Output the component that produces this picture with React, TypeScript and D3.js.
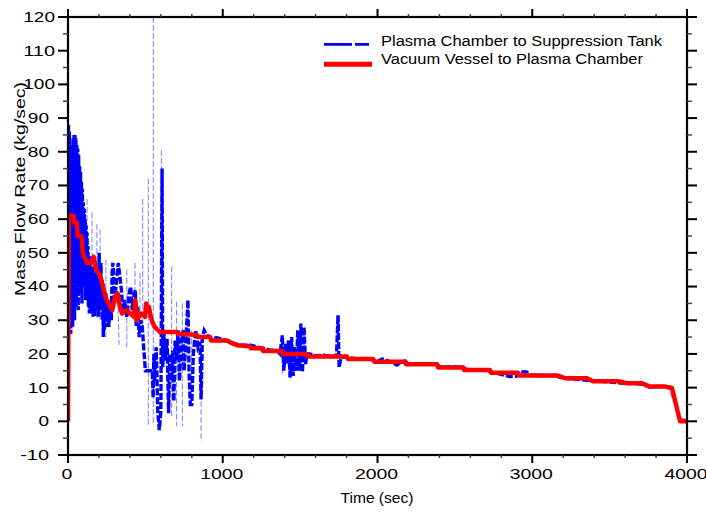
import React from "react";
import * as d3 from "d3";

// ---- data (time in sec, mass flow rate in kg/sec) ----
const redSeries: [number, number][] = [
  [0, 0], [5, 61], [37, 61], [40, 59], [58, 59], [62, 55], [88, 55], [95, 50], [123, 47], [150, 47],
  [166, 48.8], [180, 45], [198, 44], [215, 42], [231, 39], [250, 36], [263, 35], [285, 33], [305, 37],
  [320, 38], [336, 34], [350, 32], [380, 33], [426, 31], [435, 36], [446, 30], [470, 32], [498, 31],
  [505, 35], [515, 33], [523, 34], [535, 31], [549, 29], [560, 28], [595, 26.5], [704, 26.5], [710, 26],
  [834, 25.6], [840, 25], [918, 25], [925, 24], [1027, 24], [1060, 23.2], [1092, 22.6], [1176, 22.3],
  [1182, 21.7], [1254, 21.7], [1260, 20.9], [1383, 20.9], [1390, 20], [1544, 20], [1550, 19.2],
  [1803, 19.2], [1810, 18.5], [1971, 18.5], [1978, 17.7], [2178, 17.7], [2185, 16.9], [2385, 16.9],
  [2392, 16], [2553, 16], [2560, 15.2], [2727, 15.2], [2734, 14.4], [2908, 14.4], [2915, 13.6],
  [3160, 13.6], [3212, 12.8], [3354, 12.8], [3393, 11.9], [3554, 11.9], [3612, 11.3], [3709, 11.3],
  [3761, 10.3], [3858, 10.3], [3903, 9.9], [3955, 0], [4000, 0],
];

const blueSeries: [number, number][] = [
  [0, 25], [3, 88], [6, 40], [9, 86], [12, 30], [15, 77], [18, 26], [21, 80], [24, 45], [27, 82],
  [30, 28], [33, 84], [36, 40], [39, 85], [42, 30], [45, 85], [48, 48], [51, 84], [54, 34], [57, 82],
  [60, 48], [63, 81], [66, 33], [69, 79], [72, 45], [75, 76], [78, 38], [81, 74], [84, 45], [87, 71],
  [90, 35], [93, 69], [96, 47], [99, 65], [102, 40], [105, 63], [108, 47], [111, 60], [114, 36],
  [117, 58], [120, 45], [123, 56], [126, 38], [129, 52],
  [132, 34], [135, 48], [138, 32], [141, 49], [144, 33], [147, 46], [150, 32], [153, 45], [156, 36],
  [159, 46], [162, 31], [165, 44], [168, 34], [171, 43], [174, 31], [177, 42], [180, 34], [183, 45],
  [186, 33], [189, 45], [192, 36], [195, 43], [198, 31], [201, 50], [204, 36], [207, 47], [210, 33],
  [213, 47], [216, 34], [219, 42], [222, 30], [225, 41], [228, 25], [231, 35], [234, 27], [237, 38],
  [240, 31], [244, 38], [248, 30], [252, 36], [256, 28], [260, 35], [264, 28], [268, 33], [272, 30],
  [276, 36], [280, 30], [285, 44], [290, 47], [295, 43], [300, 35],
  [312, 41], [325, 47], [335, 43], [345, 39], [355, 32], [365, 36], [380, 31], [395, 38], [405, 40],
  [415, 33], [425, 37], [435, 39], [442, 28], [450, 34], [460, 25], [470, 30], [480, 28], [492, 20],
  [500, 15], [545, 15], [550, 7], [555, 20], [560, 12], [570, 22], [580, 3], [590, -2.6], [600, 3],
  [608, 75], [612, 16], [620, 26], [630, 18], [640, 24.5], [650, 2.4], [658, 20], [668, 12], [676, 21],
  [684, 6], [692, 24], [702, 18], [712, 27], [720, 12], [730, 22], [743, 27], [750, 15], [760, 22],
  [775, 36], [782, 15], [790, 5], [800, 5], [810, 20], [825, 27], [840, 22], [853, 23.5], [860, 6.5],
  [868, 25], [880, 27], [900, 25.5], [930, 24.5], [960, 24.8], [1000, 24.3], [1040, 23.8], [1080, 23],
  [1120, 22.6], [1180, 22.6], [1230, 22], [1300, 21.2], [1350, 21],
  [1370, 20], [1385, 25.5], [1395, 15], [1405, 23], [1415, 17], [1425, 24], [1435, 13], [1445, 25],
  [1455, 13.5], [1465, 22], [1475, 15], [1485, 27], [1495, 15], [1505, 29], [1515, 14.6], [1525, 28],
  [1535, 17], [1545, 20], [1560, 20], [1600, 19.5], [1650, 19.6], [1700, 19.3], [1735, 19.4],
  [1745, 31.5], [1752, 16], [1760, 18], [1770, 19], [1800, 19], [1860, 18.6], [1950, 18.6],
  [2000, 17.8], [2030, 18.5], [2070, 17.9], [2126, 16.7], [2150, 17.5], [2178, 17.9], [2200, 17],
  [2385, 16.9], [2400, 16.2], [2550, 16.1], [2570, 15.5], [2600, 15.3], [2700, 15.2], [2740, 14.6],
  [2856, 13.3], [2900, 13.4], [2920, 14.8], [2966, 14.6], [2980, 13.7], [3150, 13.5], [3200, 12.8],
  [3400, 12], [3600, 11.3], [3700, 11.1], [3760, 10.2], [3850, 10.4],
];

// faint thin dashed excursions of the blue series: [t1, v1, t2, v2]
const blueThin: [number, number, number, number][] = [
  [123, 66, 123, 35], [155, 62, 155, 33], [187, 58.5, 187, 30], [207, 57, 207, 30], [245, 48, 245, 25],
  [323, 36, 330, 22.7], [380, 45, 380, 22], [433, 47, 433, 28], [465, 44, 465, 26], [483, 66, 483, 22],
  [519, 72, 519, -1], [551, 120, 551, -1], [603, 80.5, 603, 25], [670, 46, 670, 1.5],
  [702, 35.5, 702, -1.5], [739, 35, 739, -1.5], [799, 27, 799, 8], [860, 25, 860, -6],
  [1385, 25, 1385, 14], [1440, 24, 1440, 12], [3850, 10.4, 3870, 10.8], [3870, 10.8, 3955, 1],
  [3955, 1, 4000, 0.5],
];

const xTicks = [0, 1000, 2000, 3000, 4000];
const yTicks = [-10, 0, 10, 20, 30, 40, 50, 60, 70, 80, 90, 100, 110, 120];
const seriesNames = ["Plasma Chamber to Suppression Tank", "Vacuum Vessel to Plasma Chamber"];

const W = 706, H = 516;
const L = 68, R = 687, T = 17, B = 455;
const FONT = "'Liberation Sans', Arial, Helvetica, sans-serif";

export default function App() {
  const x = d3.scaleLinear().domain([0, 4000]).range([L, R]);
  const y = d3.scaleLinear().domain([-10, 120]).range([B, T]);
  const line = d3.line<[number, number]>().x((d) => x(d[0])).y((d) => y(d[1]));

  const xMinor = d3.range(0, 4001, 200).filter((v) => v % 1000 !== 0);
  const yMinor = d3.range(-5, 120, 10);

  return (
    <>
      <style>{"body{margin:0}"}</style>
      <svg width={W} height={H} style={{ display: "block", background: "#fff" }} fontFamily={FONT}>
        <defs>
          <clipPath id="plot">
            <rect x={L} y={T - 1} width={R - L} height={B - T + 2} />
          </clipPath>
        </defs>
        <g clipPath="url(#plot)">
          {blueThin.map((s, i) => (
            <line
              key={i}
              x1={x(s[0])}
              y1={y(s[1])}
              x2={x(s[2])}
              y2={y(s[3])}
              stroke="#7f7fff"
              strokeWidth={1}
              strokeDasharray="6,2"
            />
          ))}
          <path d={line(blueSeries) || ""} fill="none" stroke="#0000ff" strokeWidth={3.4} strokeDasharray="7,2" />
          <path d={line(redSeries) || ""} fill="none" stroke="#ff0000" strokeWidth={4.5} strokeLinejoin="round" />
        </g>

        {/* frame */}
        <rect x={L} y={T} width={R - L} height={B - T} fill="none" stroke="#000" strokeWidth={2.2} />

        {/* y ticks */}
        {yTicks.map((v) => (
          <g key={"y" + v}>
            <line x1={L - 10} x2={L} y1={y(v)} y2={y(v)} stroke="#000" strokeWidth={2} />
            <line x1={R} x2={R + 10} y1={y(v)} y2={y(v)} stroke="#000" strokeWidth={2} />
            <text
              x={v >= 100 ? 55 : 49}
              y={y(v)}
              dy="0.35em"
              textAnchor="end"
              fontSize={14}
              textLength={String(v).length * 10.6 - (v < 0 ? 3 : 0)}
              lengthAdjust="spacingAndGlyphs"
            >
              {v}
            </text>
          </g>
        ))}
        {yMinor.map((v) => (
          <g key={"ym" + v}>
            <line x1={L - 5} x2={L} y1={y(v)} y2={y(v)} stroke="#444" strokeWidth={1.5} />
            <line x1={R} x2={R + 5} y1={y(v)} y2={y(v)} stroke="#444" strokeWidth={1.5} />
          </g>
        ))}

        {/* x ticks */}
        {xTicks.map((v) => (
          <g key={"x" + v}>
            <line x1={x(v)} x2={x(v)} y1={B} y2={B + 8} stroke="#000" strokeWidth={2} />
            <line x1={x(v)} x2={x(v)} y1={T - 8} y2={T} stroke="#000" strokeWidth={2} />
            <text
              x={x(v) - 1}
              y={479}
              textAnchor="middle"
              fontSize={15.5}
              textLength={String(v).length * 10.8}
              lengthAdjust="spacingAndGlyphs"
            >
              {v}
            </text>
          </g>
        ))}
        {xMinor.map((v) => (
          <g key={"xm" + v}>
            <line x1={x(v)} x2={x(v)} y1={B} y2={B + 3} stroke="#444" strokeWidth={1.5} />
            <line x1={x(v)} x2={x(v)} y1={T - 3} y2={T} stroke="#444" strokeWidth={1.5} />
          </g>
        ))}

        {/* axis titles */}
        <text x={377} y={503} textAnchor="middle" fontSize={15.5} textLength={73} lengthAdjust="spacingAndGlyphs">
          Time (sec)
        </text>
        <text
          transform={`translate(25,${(T + B) / 2 - 47}) rotate(-90)`}
          textAnchor="middle"
          fontSize={15.5}
          textLength={214}
          lengthAdjust="spacingAndGlyphs"
        >
          Mass Flow Rate (kg/sec)
        </text>

        {/* legend */}
        <line x1={324} x2={369} y1={44.3} y2={44.3} stroke="#0000ff" strokeWidth={2.7} strokeDasharray="28,3" />
        <line x1={324} x2={372} y1={64.3} y2={64.3} stroke="#ff0000" strokeWidth={5} />
        <text x={381} y={46} fontSize={15.3} textLength={281} lengthAdjust="spacingAndGlyphs">
          {seriesNames[0]}
        </text>
        <text x={381} y={64} fontSize={15.3} textLength={262} lengthAdjust="spacingAndGlyphs">
          {seriesNames[1]}
        </text>
      </svg>
    </>
  );
}
